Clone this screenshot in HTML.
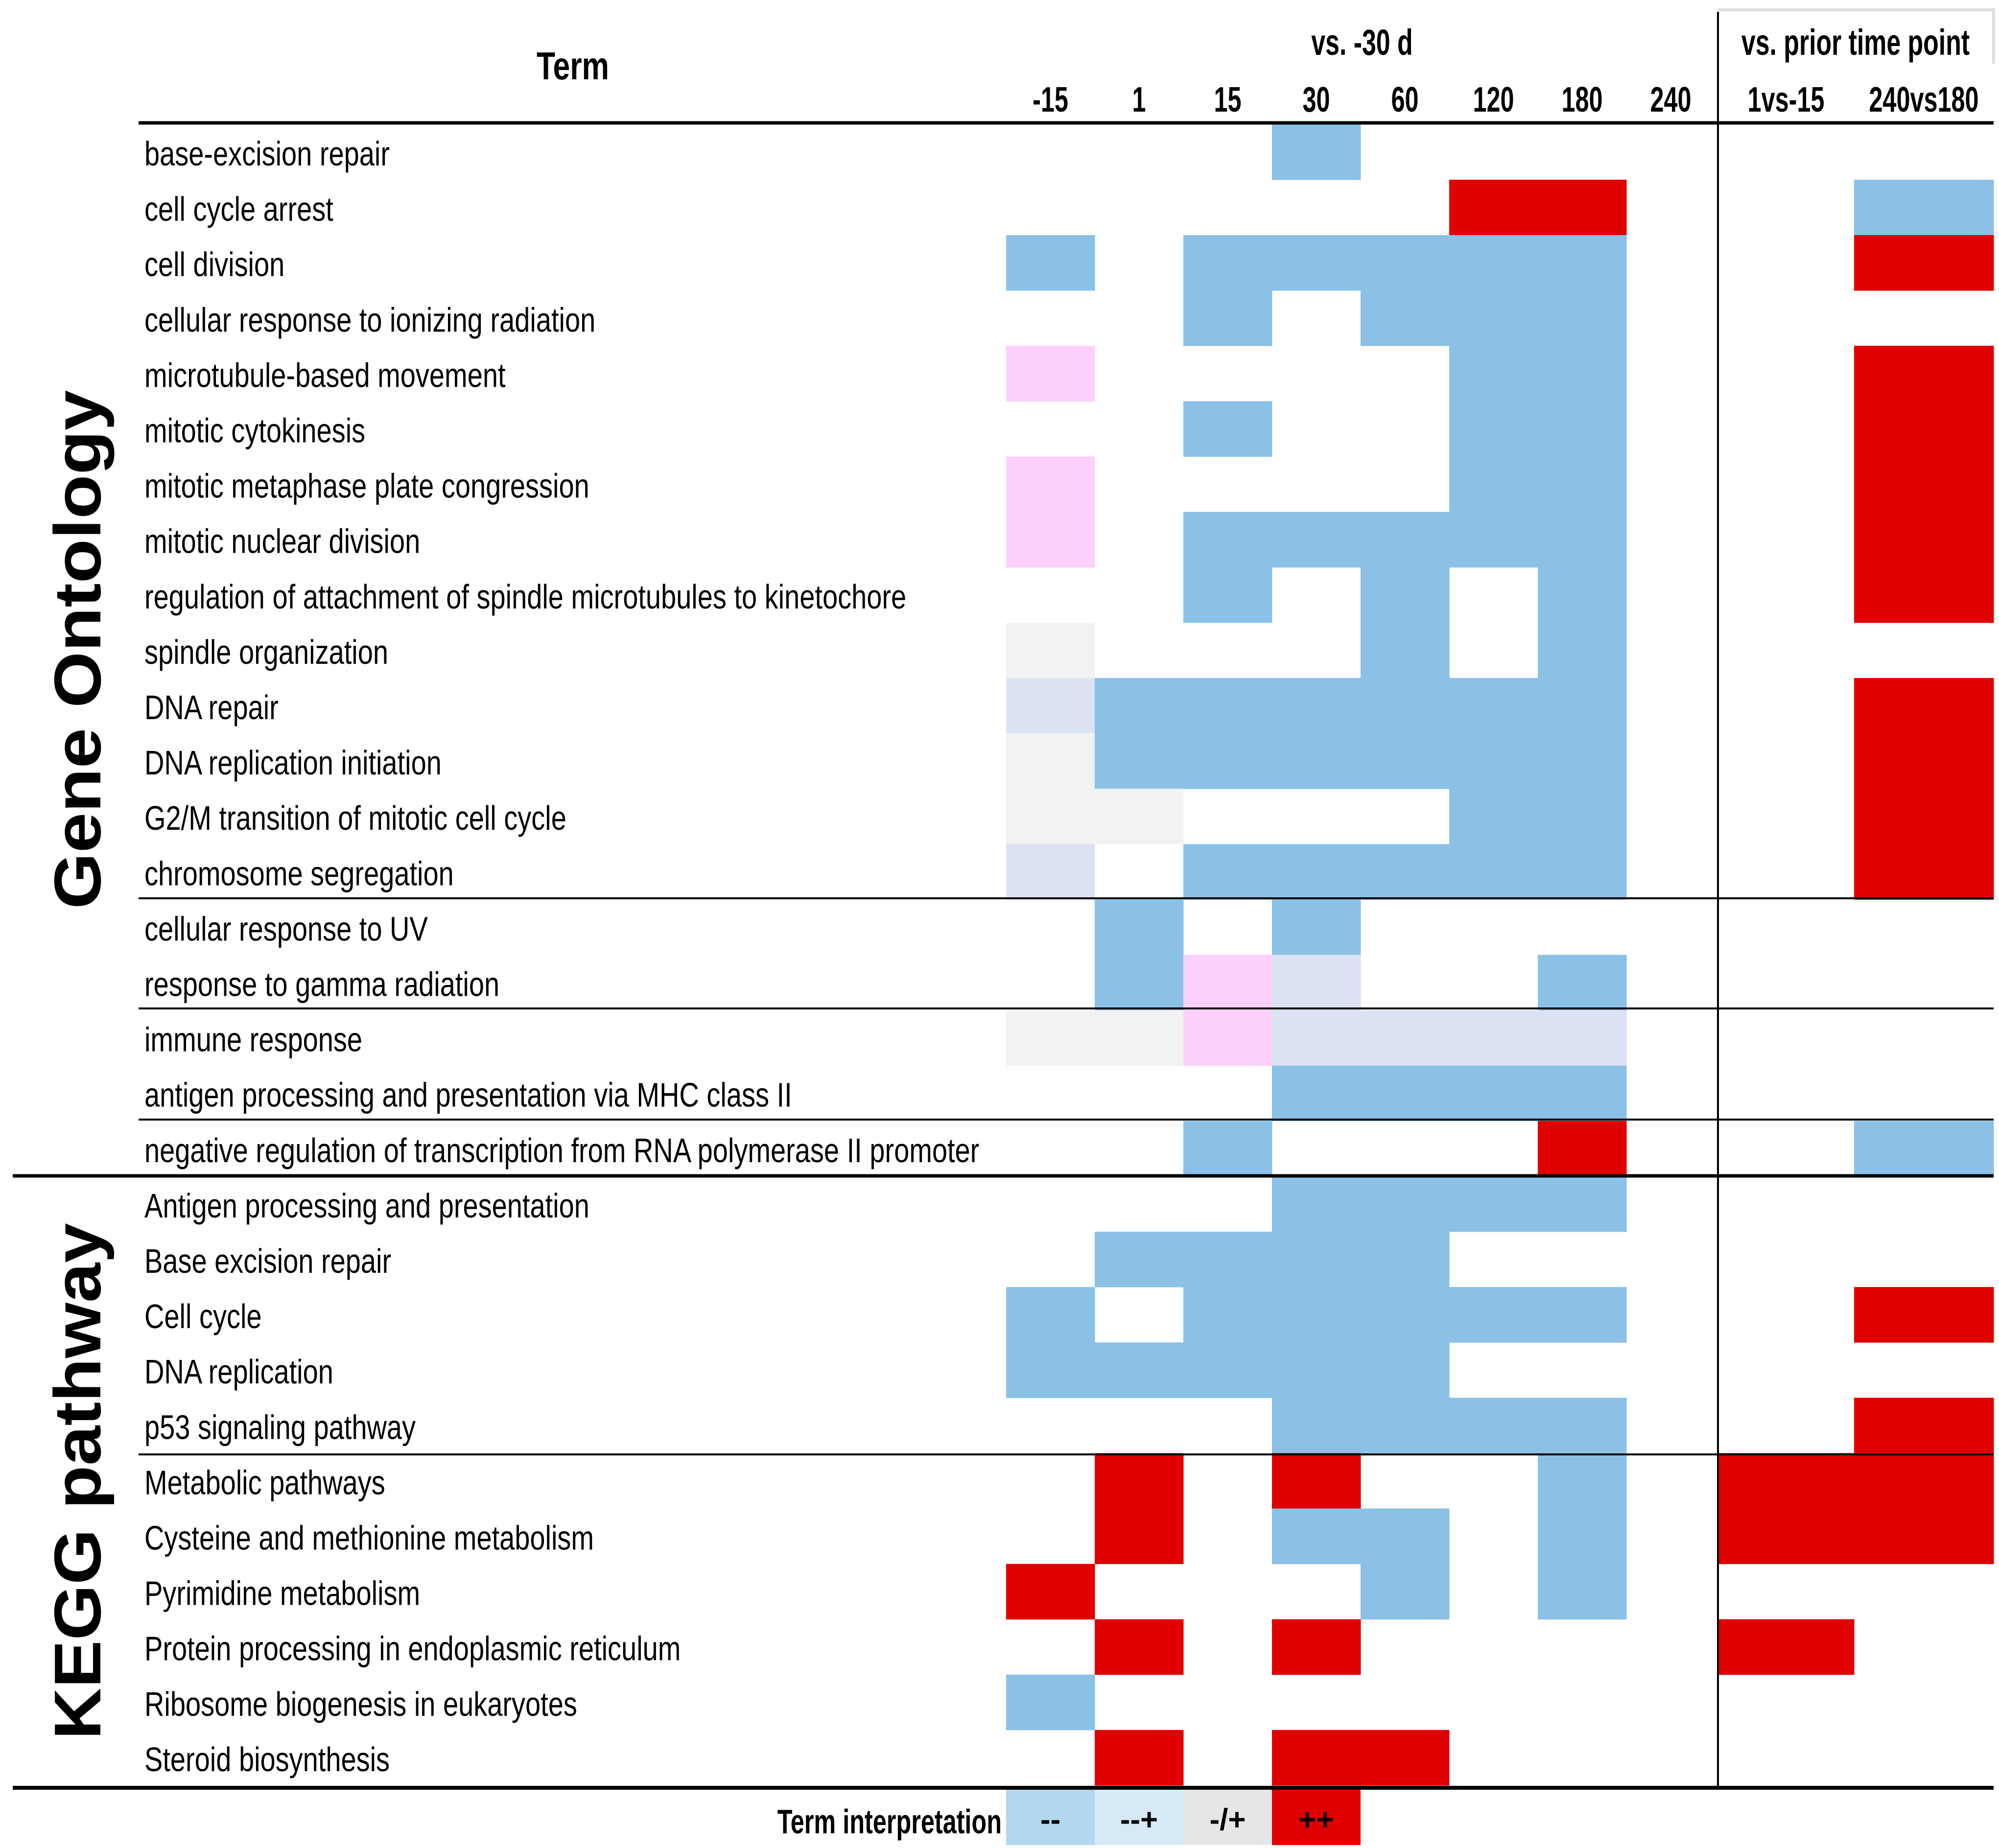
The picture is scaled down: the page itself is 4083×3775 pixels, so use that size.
<!DOCTYPE html>
<html><head><meta charset="utf-8"><style>
html,body{margin:0;padding:0;background:#fff;}
svg{display:block;}
text{font-family:"Liberation Sans",sans-serif;fill:#000;}
</style></head><body>
<svg id="chart" width="4083" height="3775" viewBox="0 0 4083 3775" xmlns="http://www.w3.org/2000/svg">
<g id="cells"></g>
<g id="lines"></g>
<g id="labels"></g>
<g id="headers"></g>
<text x="1170" y="162" font-size="80" font-weight="bold" text-anchor="middle" transform="translate(1170,0) scale(0.78,1) translate(-1170,0)">Term</text>
<text x="2782" y="112" font-size="74" font-weight="bold" text-anchor="middle" transform="translate(2782,0) scale(0.7,1) translate(-2782,0)">vs. -30 d</text>
<text x="3790" y="112" font-size="74" font-weight="bold" text-anchor="middle" transform="translate(3790,0) scale(0.7,1) translate(-3790,0)">vs. prior time point</text>
<text x="0" y="0" font-size="135" font-weight="bold" text-anchor="middle" textLength="1060" lengthAdjust="spacingAndGlyphs" transform="translate(205,1327) rotate(-90)">Gene Ontology</text>
<text x="0" y="0" font-size="135" font-weight="bold" text-anchor="middle" textLength="1055" lengthAdjust="spacingAndGlyphs" transform="translate(205,3026) rotate(-90)">KEGG pathway</text>
<g id="legend"></g>
</svg>
<script>
const columns = ["-15","1","15","30","60","120","180","240","1vs-15","240vs180"];
const terms = [
"base-excision repair","cell cycle arrest","cell division","cellular response to ionizing radiation",
"microtubule-based movement","mitotic cytokinesis","mitotic metaphase plate congression","mitotic nuclear division",
"regulation of attachment of spindle microtubules to kinetochore","spindle organization","DNA repair",
"DNA replication initiation","G2/M transition of mitotic cell cycle","chromosome segregation",
"cellular response to UV","response to gamma radiation","immune response",
"antigen processing and presentation  via MHC class II","negative regulation of transcription from RNA polymerase II promoter",
"Antigen processing and presentation","Base excision repair","Cell cycle","DNA replication","p53 signaling pathway",
"Metabolic pathways","Cysteine and methionine metabolism","Pyrimidine metabolism",
"Protein processing in endoplasmic reticulum","Ribosome biogenesis in eukaryotes","Steroid biosynthesis"];
// codes per column: B blue(--), R red(++), P pink(-/+ ), G gray, L lavender, . none
const cellCodes = [
"...B......",".....RR..B","B.BBBBB..R","..B.BBB...",
"P....BB..R","..B..BB..R","P....BB..R","P.BBBBB..R",
"..B.B.B..R","G...B.B...","LBBBBBB..R","GBBBBBB..R",
"GG...BB..R","L.BBBBB..R",".B.B......",".BPL..B...",
"GGPLLLL...","...BBBB...","..B...R..B",
"...BBBB...",".BBBB.....","B.BBBBB..R","BBBBB.....","...BBBB..R",
".R.R..B.RR",".R.BB.B.RR","R...B.B...",".R.R....R.","B.........",".R.RR....."];
const legendLabels = ["--","--+","-/+","++"];
const legendColors = ["#b3d7ef","#d6eaf6","#e6e6e6","#e00000"];

const colorMap = {B:"#8bc1e6",R:"#e00000",P:"#fdd0fc",G:"#f2f2f2",L:"#dbe2f4"};
const NS = "http://www.w3.org/2000/svg";
const X0 = 2055, CW = 181, Y0 = 254, RH = 113.1;
const colX = i => i < 8 ? X0 + i*CW : (i === 8 ? 3509 : 3787);
const colW = i => i < 8 ? CW : (i === 8 ? 278 : 285);
const rowY = r => Y0 + r*RH;
function mk(tag, attrs, parent){const e=document.createElementNS(NS,tag);for(const k in attrs)e.setAttribute(k,attrs[k]);parent.appendChild(e);return e;}

const cellsG = document.getElementById('cells');
cellCodes.forEach((row, r) => {
  row.split('').forEach((c, i) => {
    if (c === '.') return;
    const rect = mk('rect', {x: colX(i), y: rowY(r), width: colW(i)+0.5, height: RH+0.5, fill: colorMap[c]}, cellsG);
    
    
  });
});

const LS = 0.8;
const labelsG = document.getElementById('labels');
terms.forEach((t, r) => {
  const tx = mk('text', {x: 295/LS, y: rowY(r) + 84, 'font-size': 70, transform: 'scale(' + LS + ',1)'}, labelsG);
  tx.textContent = t;
  
  
});

const headersG = document.getElementById('headers');
columns.forEach((c, i) => {
  const cx = colX(i) + colW(i)/2;
  const tx = mk('text', {x: cx/0.7, y: 228, 'font-size': 72, 'font-weight': 'bold', 'text-anchor': 'middle', transform: 'scale(0.7,1)'}, headersG);
  tx.textContent = c;
  
  
});

const linesG = document.getElementById('lines');
const hl = [[283,4072,251,7],[283,4072,1835,4],[283,4072,2060,4],[283,4072,2287,4],[26,4072,2402,7],[283,4072,2971,4],[26,4072,3652,8]];
hl.forEach(h => {
  const l = mk('line', {x1: h[0], x2: h[1], y1: h[2], y2: h[2], stroke: '#000', 'stroke-width': h[3]}, linesG);
  
  
});
const vl = mk('line', {x1: 3509, x2: 3509, y1: 24, y2: 3652, stroke: '#000', 'stroke-width': 4}, linesG);


const box = mk('polyline', {points: '3509,20 4072,20 4072,130', fill: 'none', stroke: '#ddd', 'stroke-width': 6}, linesG);



const legG = document.getElementById('legend');
const lt = mk('text', {x: 2046/0.72, y: 3745, 'font-size': 70, 'font-weight': 'bold', 'text-anchor': 'end', transform: 'scale(0.72,1)'}, legG);
lt.textContent = 'Term interpretation';


legendLabels.forEach((lab, i) => {
  const r = mk('rect', {x: X0 + i*CW, y: 3656, width: CW, height: 113, fill: legendColors[i]}, legG);
  
  
  const t = mk('text', {x: X0 + i*CW + CW/2, y: 3738, 'font-size': 62, 'font-weight': 'bold', 'text-anchor': 'middle'}, legG);
  t.textContent = lab;
  
  
});
</script>
</body></html>
